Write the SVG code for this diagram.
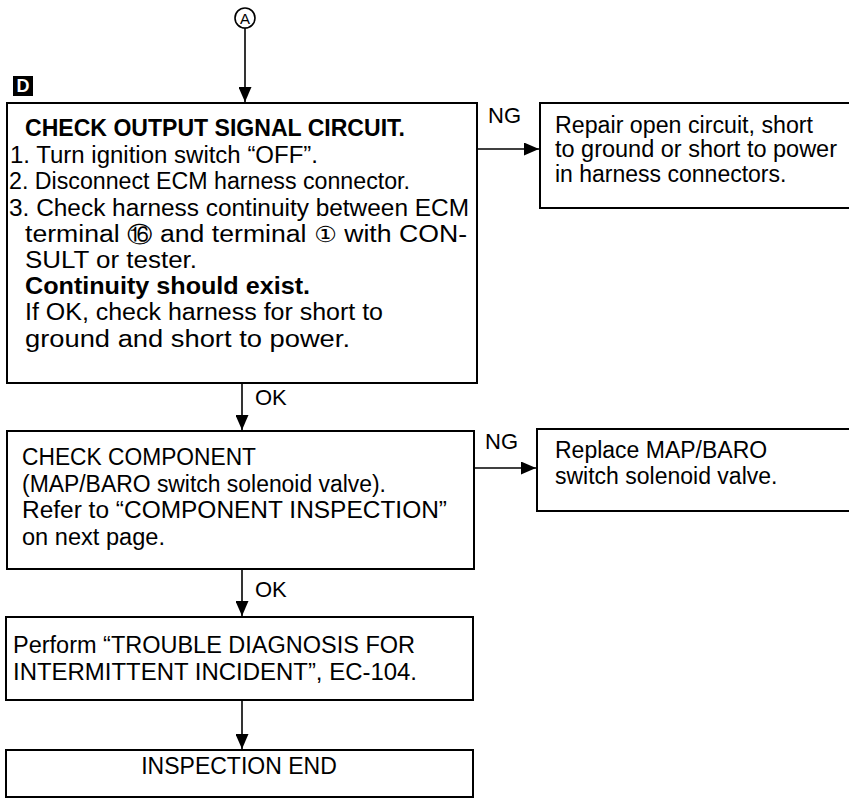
<svg xmlns="http://www.w3.org/2000/svg" width="849" height="800" viewBox="0 0 849 800">
<style>
.box{fill:#fff;stroke:#000;stroke-width:2}
.t{font-family:"Liberation Sans",Arial,sans-serif;font-size:23px;fill:#000}
.b{font-weight:bold}
.lbl{font-family:"Liberation Sans",Arial,sans-serif;font-size:22px;fill:#000}
.c{fill:none;stroke:#000;stroke-width:1.6}
.cn{font-family:"DejaVu Sans",sans-serif;font-size:22px}
</style>
<defs>
<marker id="arr" viewBox="0 0 15 13" refX="15" refY="6.5" markerWidth="15" markerHeight="13" markerUnits="userSpaceOnUse" orient="auto">
<path d="M0,0 L15,6.5 L0,13 Z" fill="#000"/>
</marker>
</defs>
<rect width="849" height="800" fill="#fff"/>
<g id="connectors">
<line class="c" x1="245" y1="28" x2="245" y2="102" marker-end="url(#arr)"/>
<line class="c" x1="477" y1="149" x2="539" y2="149" marker-end="url(#arr)"/>
<line class="c" x1="242" y1="383" x2="242" y2="430" marker-end="url(#arr)"/>
<line class="c" x1="474" y1="468" x2="536" y2="468" marker-end="url(#arr)"/>
<line class="c" x1="242" y1="569" x2="242" y2="616" marker-end="url(#arr)"/>
<line class="c" x1="242" y1="700" x2="242" y2="749" marker-end="url(#arr)"/>
<text class="lbl" x="488" y="123">NG</text>
<text class="lbl" x="255" y="405">OK</text>
<text class="lbl" x="485" y="449">NG</text>
<text class="lbl" x="255" y="597">OK</text>
</g>
<g id="start">
<circle cx="245" cy="18" r="10" fill="#fff" stroke="#000" stroke-width="1.6"/>
<text x="245" y="24" text-anchor="middle" style="font-family:'Liberation Sans',Arial,sans-serif;font-size:15px">A</text>
</g>
<g id="badge">
<rect x="13" y="76" width="20" height="20" fill="#000"/>
<text x="23" y="92" text-anchor="middle" style="font-family:'Liberation Sans',Arial,sans-serif;font-size:18px;font-weight:bold;fill:#fff">D</text>
</g>
<g id="check-output">
<rect class="box" x="7" y="103" width="470" height="280"/>
<text class="t b" x="25" y="136" textLength="380" lengthAdjust="spacingAndGlyphs">CHECK OUTPUT SIGNAL CIRCUIT.</text>
<text class="t" x="10" y="163" textLength="308" lengthAdjust="spacingAndGlyphs">1. Turn ignition switch “OFF”.</text>
<text class="t" x="9" y="189" textLength="401" lengthAdjust="spacingAndGlyphs">2. Disconnect ECM harness connector.</text>
<text class="t" x="9" y="216" textLength="460" lengthAdjust="spacingAndGlyphs">3. Check harness continuity between ECM</text>
<text class="t" x="25" y="242" textLength="442" lengthAdjust="spacingAndGlyphs">terminal <tspan class="cn">⑯</tspan> and terminal <tspan class="cn">①</tspan> with CON-</text>
<text class="t" x="25" y="268" textLength="172" lengthAdjust="spacingAndGlyphs">SULT or tester.</text>
<text class="t b" x="25" y="294" textLength="285" lengthAdjust="spacingAndGlyphs">Continuity should exist.</text>
<text class="t" x="25" y="320" textLength="358" lengthAdjust="spacingAndGlyphs">If OK, check harness for short to</text>
<text class="t" x="25" y="347" textLength="325" lengthAdjust="spacingAndGlyphs">ground and short to power.</text>
</g>
<g id="repair">
<rect class="box" x="540" y="103" width="320" height="105"/>
<text class="t" x="555" y="133" textLength="258" lengthAdjust="spacingAndGlyphs">Repair open circuit, short</text>
<text class="t" x="555" y="157" textLength="282" lengthAdjust="spacingAndGlyphs">to ground or short to power</text>
<text class="t" x="555" y="182">in harness connectors.</text>
</g>
<g id="check-component">
<rect class="box" x="7" y="431" width="467" height="138"/>
<text class="t" x="22" y="465" textLength="234" lengthAdjust="spacingAndGlyphs">CHECK COMPONENT</text>
<text class="t" x="22" y="492" textLength="364" lengthAdjust="spacingAndGlyphs">(MAP/BARO switch solenoid valve).</text>
<text class="t" x="22" y="518" textLength="425" lengthAdjust="spacingAndGlyphs">Refer to “COMPONENT INSPECTION”</text>
<text class="t" x="22" y="545" textLength="143" lengthAdjust="spacingAndGlyphs">on next page.</text>
</g>
<g id="replace">
<rect class="box" x="537" y="429" width="320" height="82"/>
<text class="t" x="555" y="458">Replace MAP/BARO</text>
<text class="t" x="555" y="484">switch solenoid valve.</text>
</g>
<g id="perform">
<rect class="box" x="6" y="617" width="467" height="83"/>
<text class="t" x="13" y="653" textLength="402" lengthAdjust="spacingAndGlyphs">Perform “TROUBLE DIAGNOSIS FOR</text>
<text class="t" x="13" y="680" textLength="404" lengthAdjust="spacingAndGlyphs">INTERMITTENT INCIDENT”, EC-104.</text>
</g>
<g id="end">
<rect class="box" x="6" y="750" width="467" height="47"/>
<text class="t" x="239" y="774" text-anchor="middle">INSPECTION END</text>
</g>
</svg>
